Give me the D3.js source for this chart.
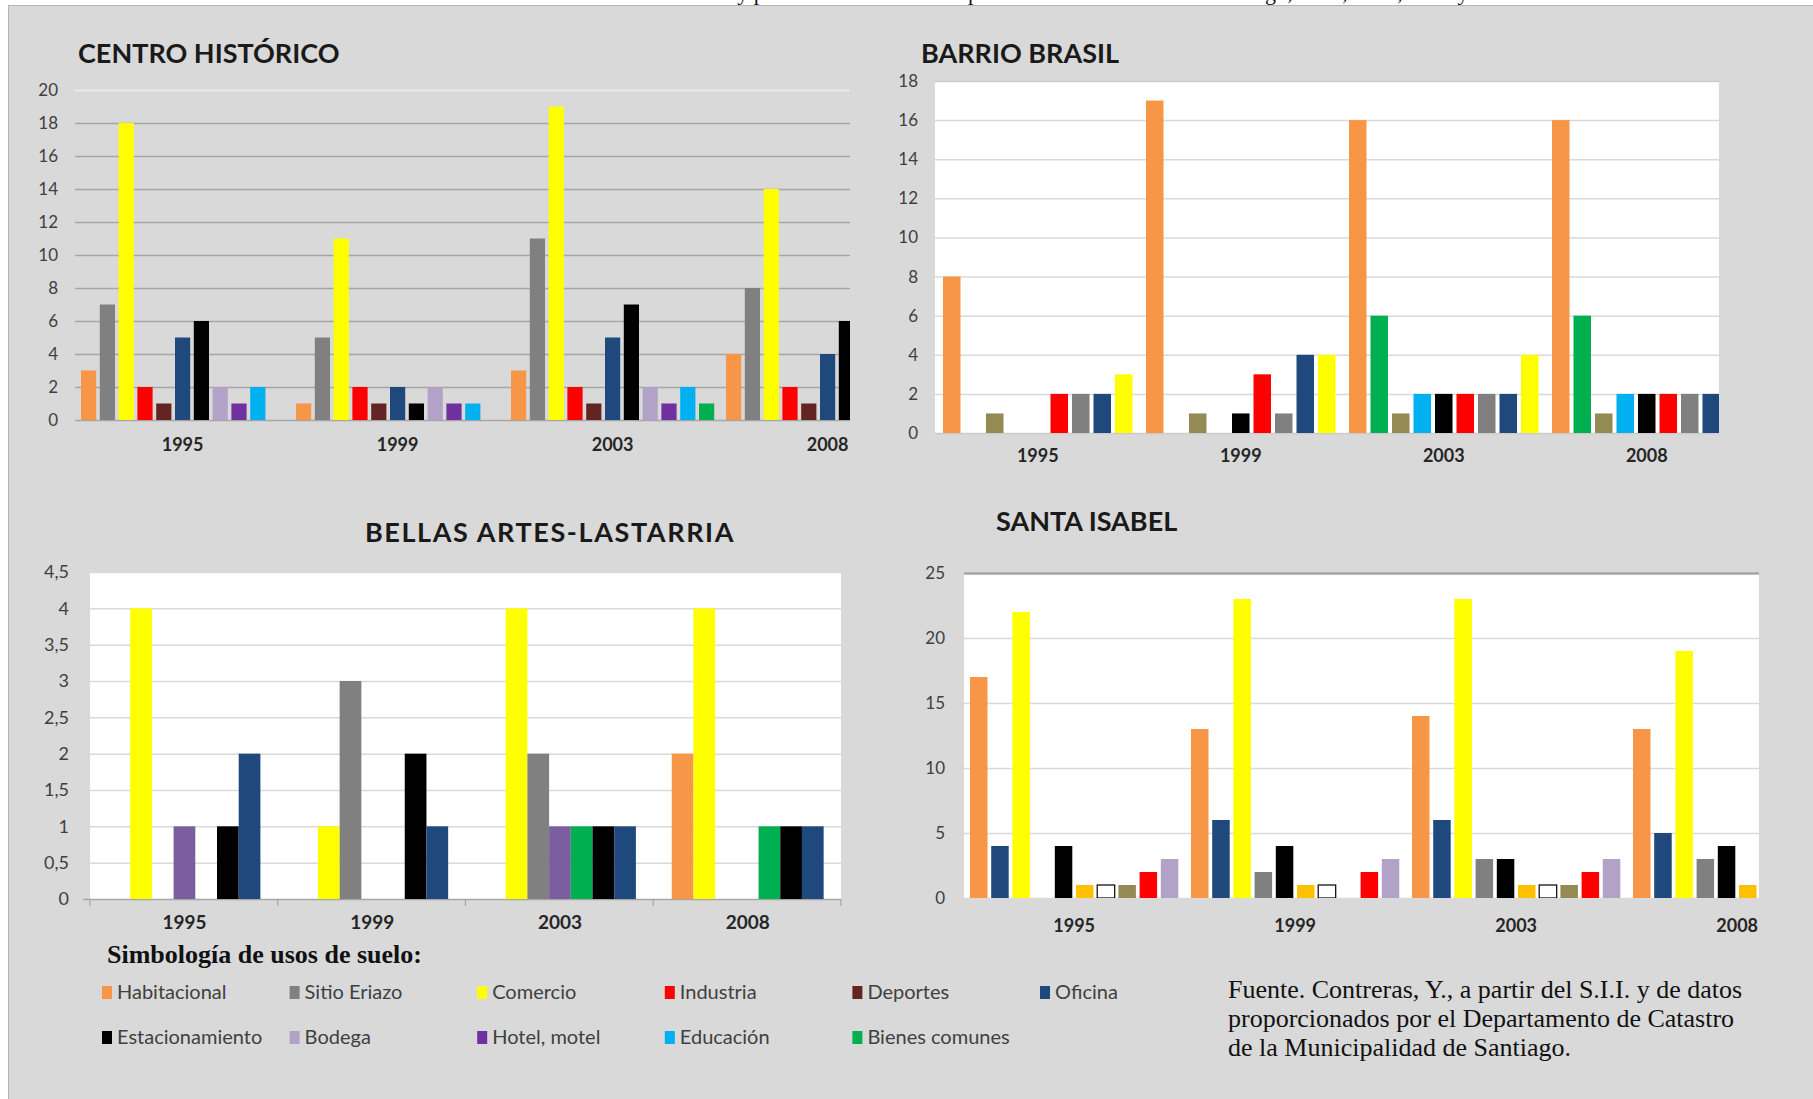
<!DOCTYPE html>
<html lang="es">
<head>
<meta charset="utf-8" />
<title>Simbología de usos de suelo por barrio</title>
<script src="https://d3js.org/d3.v7.min.js"></script>
<style>
  html, body { margin: 0; padding: 0; background: #fff; }
  svg { display: block; }
  .tick-lbl { font-family: Lato, "Open Sans", sans-serif; font-size: 17px; fill: #404040; }
  .cat-lbl { font-family: Lato, sans-serif; font-size: 18px; font-weight: bold; fill: #262626; }
  .panel-title { font-family: Lato, sans-serif; font-size: 27px; font-weight: bold; fill: #1a1a1a; }
  .serif { font-family: "Liberation Serif", "DejaVu Serif", serif; fill: #111; }
  .leg-lbl { font-family: Lato, sans-serif; font-size: 20px; fill: #404040; }
</style>
</head>
<body>
<svg id="viz" width="1813" height="1099"></svg>
<script>
const YEARS = ["1995", "1999", "2003", "2008"];

// colores de cada uso (los tres últimos no figuran en la simbología)
const COLORS = {
  "Habitacional": "#f79646",
  "Sitio Eriazo": "#808080",
  "Comercio": "#ffff00",
  "Industria": "#ff0000",
  "Deportes": "#632523",
  "Oficina": "#1f497d",
  "Estacionamiento": "#000000",
  "Bodega": "#b3a2c7",
  "Hotel, motel": "#7030a0",
  "Educación": "#00b0f0",
  "Bienes comunes": "#00b050",
  "otro_oliva": "#948a54",
  "otro_ambar": "#ffc000",
  "otro_blanco": "#ffffff"
};

// Centro Histórico: una fila por año, mismo orden que chSeries (null = fuera del recorte)
const chSeries = ["Habitacional", "Sitio Eriazo", "Comercio", "Industria", "Deportes", "Oficina",
  "Estacionamiento", "Bodega", "Hotel, motel", "Educación", "Bienes comunes"];
const chValues = [
  [3, 7, 18, 2, 1, 5, 6, 2, 1, 2, 0],
  [1, 5, 11, 2, 1, 2, 1, 2, 1, 1, 0],
  [3, 11, 19, 2, 1, 5, 7, 2, 1, 2, 1],
  [4, 8, 14, 2, 1, 4, 6, null, null, null, null]
];

// Barrio Brasil
const bbSeries = ["Habitacional", "Bienes comunes", "otro_oliva", "Educación", "Estacionamiento",
  "Industria", "Sitio Eriazo", "Oficina", "Comercio"];
const bbValues = [
  [8, 0, 1, 0, 0, 2, 2, 2, 3],
  [17, 0, 1, 0, 1, 3, 1, 4, 4],
  [16, 6, 1, 2, 2, 2, 2, 2, 4],
  [16, 6, 1, 2, 2, 2, 2, 2, null]
];

// Bellas Artes-Lastarria
const baSeries = ["Habitacional", "Comercio", "Sitio Eriazo", "Hotel, motel", "Bienes comunes",
  "Estacionamiento", "Oficina"];
const baValues = [
  [0, 4, 0, 1, 0, 1, 2],
  [0, 1, 3, 0, 0, 2, 1],
  [0, 4, 2, 1, 1, 1, 1],
  [2, 4, 0, 0, 1, 1, 1]
];

// Santa Isabel
const siSeries = ["Habitacional", "Oficina", "Comercio", "Sitio Eriazo", "Estacionamiento",
  "otro_ambar", "otro_blanco", "otro_oliva", "Industria", "Bodega"];
const siValues = [
  [17, 4, 22, 0, 4, 1, 1, 1, 2, 3],
  [13, 6, 23, 2, 4, 1, 1, 0, 2, 3],
  [14, 6, 23, 3, 3, 1, 1, 1, 2, 3],
  [13, 5, 19, 3, 4, 1, null, null, null, null]
];

const legendRow1 = ["Habitacional", "Sitio Eriazo", "Comercio", "Industria", "Deportes", "Oficina"];
const legendRow2 = ["Estacionamiento", "Bodega", "Hotel, motel", "Educación", "Bienes comunes"];

const sourceLines = [
  "Fuente. Contreras, Y., a partir del S.I.I. y de datos",
  "proporcionados por el Departamento de Catastro",
  "de la Municipalidad de Santiago."
];

const esLocale = d3.formatLocale({ decimal: ",", thousands: ".", grouping: [3], currency: ["$", ""] });

const svg = d3.select("#viz");

// fondo gris del recuadro
svg.append("rect")
  .attr("x", 8.5).attr("y", 5.5)
  .attr("width", 1813).attr("height", 1099)
  .attr("fill", "#d9d9d9")
  .attr("stroke", "#b4b4b4");

// línea de texto superior, recortada por el borde
svg.append("text")
  .attr("class", "serif")
  .attr("x", 1518).attr("y", 0)
  .attr("text-anchor", "end")
  .style("font-size", "22px")
  .text("Gráfico 2. Usos de suelo y permisos de edificación por barrio en la comuna de Santiago, 1995, 1999, 2003 y 2008");

let clipId = 0;

function drawPanel(cfg) {
  const g = svg.append("g");
  const n = YEARS.length;
  const m = cfg.series.length;
  const pi = 1 - (m * cfg.pitch) / cfg.step;
  const po = cfg.offset / cfg.step;

  const x0 = d3.scaleBand().domain(YEARS)
    .range([cfg.left, cfg.left + cfg.step * (n - pi + 2 * po)])
    .paddingInner(pi).paddingOuter(po);
  const bp = 1 - cfg.barW / cfg.pitch;
  const x1 = d3.scaleBand().domain(cfg.series)
    .range([0, x0.bandwidth()])
    .paddingInner(bp).paddingOuter(bp / 2);
  const y = d3.scaleLinear().domain([0, cfg.yMax]).range([cfg.bottom, cfg.top]);
  const ticks = d3.range(0, cfg.yMax + cfg.yStep / 2, cfg.yStep);
  const w = cfg.right - cfg.left;
  const tl = cfg.tickLen || 0;

  if (cfg.bg) {
    g.append("rect")
      .attr("x", cfg.left).attr("y", cfg.top)
      .attr("width", w).attr("height", cfg.bottom - cfg.top)
      .attr("fill", cfg.bg);
  }

  // eje Y con líneas de cuadrícula
  const yAxis = g.append("g")
    .attr("transform", `translate(${cfg.left - tl},0)`)
    .call(d3.axisLeft(y).tickValues(ticks)
      .tickSize(-(w + tl)).tickPadding(cfg.labelGap)
      .tickFormat(cfg.fmt || d3.format("d")));
  yAxis.select(".domain").remove();
  yAxis.attr("font-family", null).attr("font-size", null);
  yAxis.selectAll(".tick text").attr("class", "tick-lbl")
    .style("font-size", cfg.tickFont || null);
  yAxis.selectAll(".tick line")
    .attr("stroke", d => d === 0 ? cfg.zeroColor : (d === cfg.yMax ? cfg.topColor : cfg.grid))
    .attr("stroke-width", d => d === cfg.yMax ? (cfg.topWidth || 1.5) : 1.5);

  // barras, recortadas al área del gráfico
  const cid = "clip" + (clipId++);
  g.append("clipPath").attr("id", cid)
    .append("rect")
    .attr("x", cfg.left).attr("y", cfg.top - 5)
    .attr("width", w).attr("height", cfg.bottom - cfg.top + 5);

  const colorOf = k => (cfg.colorOverride && cfg.colorOverride[k]) || COLORS[k];

  g.append("g").attr("clip-path", `url(#${cid})`)
    .selectAll("g")
    .data(YEARS.map((yr, i) => ({ yr, vals: cfg.values[i] })))
    .join("g")
    .attr("transform", d => `translate(${x0(d.yr)},0)`)
    .selectAll("rect")
    .data(d => cfg.series.map((s, j) => ({ s, v: d.vals[j] })).filter(e => e.v))
    .join("rect")
    .attr("x", e => x1(e.s))
    .attr("y", e => y(e.v))
    .attr("width", x1.bandwidth())
    .attr("height", e => cfg.bottom - y(e.v))
    .attr("fill", e => colorOf(e.s))
    .attr("stroke", e => e.s === "otro_blanco" ? "#000" : "none")
    .attr("stroke-width", 1.2);

  // eje X con los años
  const xAxis = g.append("g")
    .attr("transform", `translate(0,${cfg.bottom})`)
    .call(d3.axisBottom(x0).tickSize(0));
  xAxis.select(".domain").remove();
  xAxis.attr("font-family", null).attr("font-size", null);
  xAxis.selectAll(".tick text")
    .attr("class", "cat-lbl")
    .style("font-size", cfg.catFont || null)
    .attr("y", cfg.labelY - cfg.bottom)
    .attr("dy", null);

  if (cfg.catTicks) {
    const bounds = d3.range(n + 1).map(i => cfg.left + i * x0.step());
    g.selectAll("line.cat-tick").data(bounds).join("line")
      .attr("class", "cat-tick")
      .attr("x1", d => d).attr("x2", d => d)
      .attr("y1", cfg.bottom).attr("y2", cfg.bottom + 7)
      .attr("stroke", cfg.zeroColor).attr("stroke-width", 1.2);
  }

  g.append("text")
    .attr("class", "panel-title")
    .attr("x", cfg.titleX).attr("y", cfg.titleY)
    .attr("text-anchor", cfg.titleAnchor || "start")
    .style("letter-spacing", cfg.titleSpacing || null)
    .text(cfg.title);
}

drawPanel({
  title: "CENTRO HISTÓRICO", titleX: 78, titleY: 63,
  series: chSeries, values: chValues,
  left: 75, right: 850, top: 90, bottom: 420,
  step: 215, offset: 4.2, pitch: 18.8, barW: 15.2,
  yMax: 20, yStep: 2,
  grid: "#a6a6a6", topColor: "#ededed", zeroColor: "#a6a6a6",
  labelGap: 17, labelY: 451
});

drawPanel({
  title: "BARRIO BRASIL", titleX: 921, titleY: 63,
  series: bbSeries, values: bbValues,
  left: 935, right: 1719, top: 81, bottom: 433,
  step: 203, offset: 6, pitch: 21.5, barW: 17.5,
  yMax: 18, yStep: 2, bg: "#ffffff",
  grid: "#d9d9d9", topColor: "#cccccc", zeroColor: "#cccccc",
  labelGap: 17, labelY: 462
});

drawPanel({
  title: "BELLAS ARTES-LASTARRIA", titleX: 550, titleY: 542, titleAnchor: "middle",
  titleSpacing: "1.6px",
  series: baSeries, values: baValues,
  colorOverride: { "Hotel, motel": "#7b5e9f" },
  left: 90, right: 841, top: 572, bottom: 899,
  step: 187.75, offset: 18.5, pitch: 21.7, barW: 21.7,
  yMax: 4.5, yStep: 0.5, bg: "#ffffff", fmt: esLocale.format("~g"),
  grid: "#d9d9d9", topColor: "#d9d9d9", zeroColor: "#a6a6a6",
  tickLen: 7, labelGap: 14, labelY: 929, catTicks: true,
  tickFont: "18px", catFont: "19px"
});

drawPanel({
  title: "SANTA ISABEL", titleX: 996, titleY: 531,
  series: siSeries, values: siValues,
  left: 964, right: 1759, top: 573, bottom: 898,
  step: 221, offset: 4.15, pitch: 21.2, barW: 17.5,
  yMax: 25, yStep: 5, bg: "#ffffff",
  grid: "#d9d9d9", topColor: "#a6a6a6", topWidth: 2.5, zeroColor: "#d9d9d9",
  labelGap: 19, labelY: 932
});

// simbología
svg.append("text")
  .attr("class", "serif")
  .attr("x", 107).attr("y", 963)
  .style("font-size", "26px").style("font-weight", "bold")
  .text("Simbología de usos de suelo:");

const legendItems = legendRow1.map((k, i) => ({ k, col: i, row: 0 }))
  .concat(legendRow2.map((k, i) => ({ k, col: i, row: 1 })));

const leg = svg.append("g").selectAll("g")
  .data(legendItems).join("g")
  .attr("transform", d => `translate(${102 + d.col * 187.6},${992 + d.row * 45})`);
leg.append("rect")
  .attr("x", 0).attr("y", -6)
  .attr("width", 10).attr("height", 13)
  .attr("fill", d => COLORS[d.k]);
leg.append("text")
  .attr("class", "leg-lbl")
  .attr("x", 15).attr("y", 7)
  .text(d => d.k);

// fuente
svg.append("g").selectAll("text")
  .data(sourceLines).join("text")
  .attr("class", "serif")
  .attr("x", 1228)
  .attr("y", (d, i) => 998 + i * 29)
  .style("font-size", "26px")
  .text(d => d);
</script>
</body>
</html>
